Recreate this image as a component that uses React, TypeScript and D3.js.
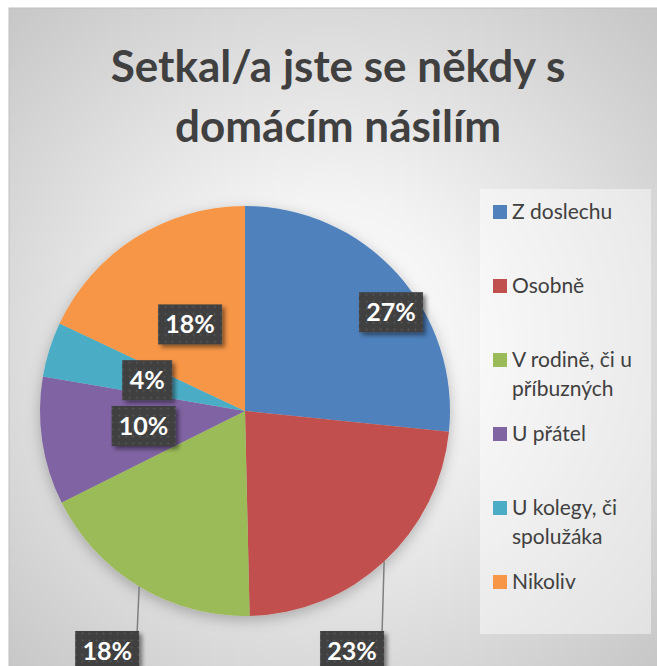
import React from "react";
import * as d3 from "d3";

// survey answers (counts); labels show rounded shares
const categories = [
  "Z doslechu",
  "Osobně",
  "V rodině, či u příbuzných",
  "U přátel",
  "U kolegy, či spolužáka",
  "Nikoliv",
];
const legendLines = [
  ["Z doslechu"],
  ["Osobně"],
  ["V rodině, či u", "příbuzných"],
  ["U přátel"],
  ["U kolegy, či", "spolužáka"],
  ["Nikoliv"],
];
const counts = [37, 32, 25, 14, 6, 25];
const colors = ["#4f81bd", "#c0504d", "#9bbb59", "#8064a2", "#4bacc6", "#f79646"];
const titleLines = ["Setkal/a jste se někdy s", "domácím násilím"];

// how each data label is placed (inside at a radius fraction, or outside with a leader)
const labelMode = ["inside", "outside", "outside", "inside", "inside", "inside"];
const labelRadius = [0.86, 0, 0, 0.5, 0.5, 0.5];
const labelTurn = [8, 0, 0, 0, 0, 0]; // degrees

const FONT = "Lato, 'Open Sans', sans-serif";

export default function App() {
  const W = 657;
  const H = 666;
  const cx = 245;
  const cy = 411;
  const r = 205;
  const outsideY = 631;
  const boxW = 64;
  const boxH = 40;

  const total = d3.sum(counts);
  const pct = d3.format(".0%");

  const pie = d3
    .pie<number>()
    .sort(null)
    .value((d) => d);
  const arcs = pie(counts);
  const arc = d3.arc<d3.PieArcDatum<number>>().innerRadius(0).outerRadius(r);

  const legendY = d3.scalePoint<string>().domain(categories).range([212, 582]);

  const labels = arcs.map((a, i) => {
    const mid = (a.startAngle + a.endAngle) / 2;
    const text = pct(a.data / total);
    if (labelMode[i] === "inside") {
      const ang = mid + (labelTurn[i] * Math.PI) / 180;
      const rr = r * labelRadius[i];
      return {
        text,
        x: cx + rr * Math.sin(ang),
        y: cy - rr * Math.cos(ang),
        line: null as null | [number, number, number, number],
      };
    }
    const ex = cx + r * Math.sin(mid);
    const ey = cy - r * Math.cos(mid);
    const endX = ex - 2;
    return {
      text,
      x: endX + 2 - boxW / 2,
      y: outsideY + boxH / 2,
      line: [ex, ey, endX, outsideY] as [number, number, number, number],
    };
  });

  return (
    <svg
      width={W}
      height={H}
      style={{ position: "absolute", left: 0, top: 0 }}
      fontFamily={FONT}
    >
      <defs>
        <radialGradient id="bg" gradientUnits="userSpaceOnUse" cx={330} cy={340} r={480}>
          <stop offset="0" stopColor="#ffffff" />
          <stop offset="0.3" stopColor="#f3f3f3" />
          <stop offset="1" stopColor="#c4c4c4" />
        </radialGradient>
        <pattern id="dots" width={7} height={7} patternUnits="userSpaceOnUse">
          <rect width={7} height={7} fill="#404040" />
          <circle cx={3.5} cy={3.5} r={1} fill="#575757" />
        </pattern>
        <filter id="boxShadow" x="-20%" y="-20%" width="150%" height="160%">
          <feDropShadow dx={3} dy={3} stdDeviation={2} floodColor="#000" floodOpacity={0.45} />
        </filter>
        <filter id="pieShadow" x="-20%" y="-20%" width="140%" height="140%">
          <feDropShadow dx={0} dy={4} stdDeviation={7} floodColor="#000" floodOpacity={0.25} />
        </filter>
      </defs>

      <rect x={9} y={8} width={W} height={H} fill="url(#bg)" stroke="#c0c0c0" strokeWidth={1} />

      {/* title */}
      <g fill="#404040" fontWeight={700} fontSize={44} textAnchor="middle">
        {titleLines.map((t, i) => (
          <text key={i} x={338} y={82 + i * 60}>
            {t}
          </text>
        ))}
      </g>

      {/* pie */}
      <g transform={`translate(${cx},${cy})`} filter="url(#pieShadow)">
        {arcs.map((a, i) => (
          <path key={i} d={arc(a) ?? ""} fill={colors[i]} />
        ))}
      </g>

      {/* leader lines */}
      {labels.map((l, i) =>
        l.line ? (
          <line
            key={i}
            x1={l.line[0]}
            y1={l.line[1]}
            x2={l.line[2]}
            y2={l.line[3]}
            stroke="#7f7f7f"
            strokeWidth={1.5}
          />
        ) : null
      )}

      {/* data labels */}
      {labels.map((l, i) => (
        <g key={i} transform={`translate(${l.x},${l.y})`}>
          <rect
            x={-boxW / 2 + (l.text.length < 3 ? 7 : 0)}
            y={-boxH / 2}
            width={boxW - (l.text.length < 3 ? 14 : 0)}
            height={boxH}
            fill="url(#dots)"
            filter="url(#boxShadow)"
          />
          <text
            textAnchor="middle"
            dy="0.36em"
            fill="#ffffff"
            fontWeight={700}
            fontSize={25}
          >
            {l.text}
          </text>
        </g>
      ))}

      {/* legend */}
      <rect x={480} y={189} width={171} height={445} fill="#ffffff" opacity={0.45} />
      {categories.map((c, i) => {
        const y = legendY(c) ?? 0;
        return (
          <g key={c}>
            <rect x={493} y={y - 7} width={14} height={14} fill={colors[i]} />
            {legendLines[i].map((t, j) => (
              <text
                key={j}
                x={512}
                y={y + j * 29}
                dy="0.35em"
                fontSize={21}
                fill="#404040"
              >
                {t}
              </text>
            ))}
          </g>
        );
      })}
    </svg>
  );
}
